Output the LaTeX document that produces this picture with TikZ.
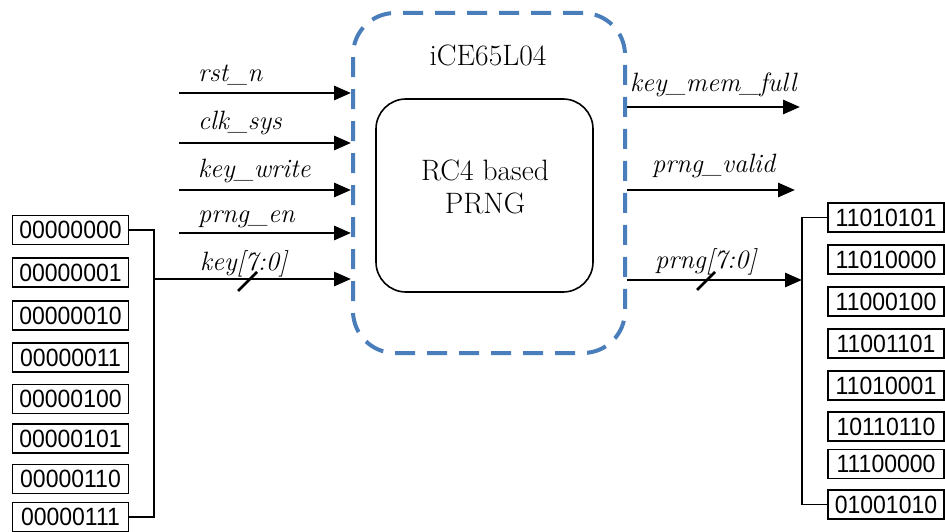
\documentclass[tikz,border=0pt]{standalone}
\usepackage{fontspec}
\newfontfamily\digfont[FakeStretch=0.92]{Liberation Sans}
\usetikzlibrary{arrows.meta}
\definecolor{dashblue}{RGB}{74,126,187}
\begin{document}
\begin{tikzpicture}[x=1pt,y=-1pt,
  bin/.style={draw,line width=1.7pt,inner sep=0pt,minimum width=116pt,minimum height=29pt,font=\digfont\fontsize{25}{25}\selectfont},
  sig/.style={line width=2.8pt,-{Triangle[length=17pt,width=14pt]}},
  lbl/.style={anchor=base west,inner sep=0pt,font=\fontsize{26.5}{26.5}\selectfont\itshape},
  bus/.style={line width=1.9pt},
  slash/.style={line width=2.6pt}]
\useasboundingbox (0,0) rectangle (945,532);
% chip
\node[draw=dashblue,line width=4pt,dash pattern=on 20pt off 12pt,rounded corners=42pt,
      minimum width=272pt,minimum height=340pt] (chip) at (489,183) {};
\node[font=\fontsize{29.5}{29.5}\selectfont,inner sep=0pt] (title) at (488,55) {iCE65L04};
\node[draw,line width=1.6pt,rounded corners=30pt,minimum width=217pt,minimum height=193pt] (core) at (484.5,195.5) {};
\node[align=center,inner sep=0pt,font=\fontsize{29.5}{33}\selectfont] (coretext) at (485,187) {RC4 based\\PRNG};
% left boxes
\foreach \t/\y [count=\i from 0] in {00000000/230,00000001/272.5,00000010/315.5,00000011/357.5,00000100/399,00000101/438.5,00000110/479,00000111/517}
  \node[bin] (L\i) at (70.5,\y) {\t};
% right boxes
\foreach \t/\y [count=\i from 0] in {11010101/217.5,11010000/259.5,11000100/301.5,11001101/343.5,11010001/385.5,10110110/426.5,11100000/464,01001010/504.5}
  \node[bin] (R\i) at (886,\y) {\t};
% inputs
\coordinate (s1) at (179,93);
\coordinate (s2) at (179,143);
\coordinate (s3) at (179,190);
\coordinate (s4) at (179,233);
\coordinate (lb) at (154,279);
\foreach \s in {s1,s2,s3,s4} \draw[sig] (\s) -- (\s -| chip.west);
\draw[bus] (L0.east) -| (lb) |- (L7.east);
\draw[sig] (lb) -- (lb -| chip.west);
\draw[slash] (238,291) -- (257,272);
% outputs
\coordinate (o1) at (800,107);
\coordinate (o2) at (795,190);
\coordinate (rb) at (802,280);
\draw[sig] (chip.east |- o1) -- (o1);
\draw[sig] (chip.east |- o2) -- (o2);
\draw[sig] (chip.east |- rb) -- (rb);
\draw[bus] (R0.west) -| (rb) |- (R7.west);
\draw[slash] (697,290) -- (715,272);
% labels
\node[lbl] (l1) at (198,82) {rst\_n};
\node[lbl] (l2) at (198,130) {clk\_sys};
\node[lbl] (l3) at (198,177) {key\_write};
\node[lbl] (l4) at (198,222) {prng\_en};
\node[lbl] (l5) at (200,270) {key[7:0]};
\node[lbl] (l6) at (630,92) {key\_mem\_full};
\node[lbl] (l7) at (652,172) {prng\_valid};
\node[lbl] (l8) at (655,268) {prng[7:0]};
\end{tikzpicture}
\end{document}
